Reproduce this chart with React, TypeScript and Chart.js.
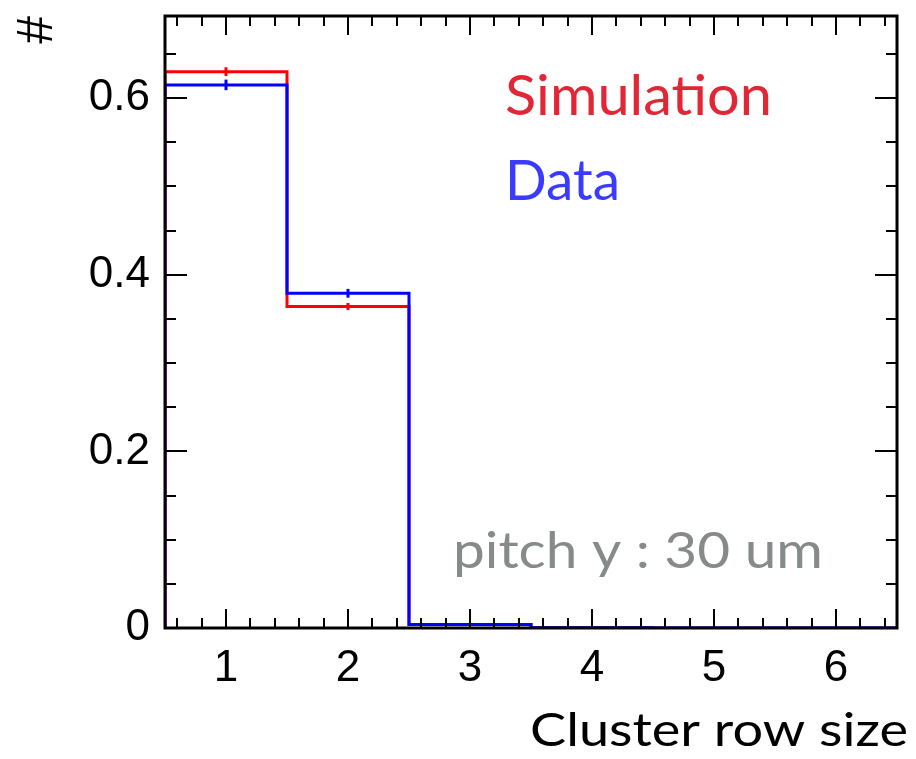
import React, { useEffect, useRef } from "react";
import { Chart, registerables } from "chart.js";

Chart.register(...registerables);

// ---- data ----
const binCenters = [1, 2, 3, 4, 5, 6];
const simValues = [0.63, 0.364, 0.004, 0.0003, 0, 0];
const simErrors = [0.005, 0.004, 0.0006, 0, 0, 0];
const dataValues = [0.615, 0.379, 0.004, 0.0003, 0, 0];
const dataErrors = [0.006, 0.005, 0.0006, 0, 0, 0];
const xTickValues = [1, 2, 3, 4, 5, 6];
const yTickValues = [0, 0.2, 0.4, 0.6];
const xTickLabels = ["1", "2", "3", "4", "5", "6"];
const yTickLabels = ["0", "0.2", "0.4", "0.6"];
const legendLabels = ["Simulation", "Data"];
const xTitle = "Cluster row size";
const yTitle = "#";
const noteText = "pitch y : 30 um";

const X_MIN = 0.5;
const X_MAX = 6.5;
const Y_MIN = 0;
const Y_MAX = 0.693;
const X_MINOR_STEP = 0.2;
const Y_MINOR_STEP = 0.05;

const SIM_COLOR = "#ff0000";
const DATA_COLOR = "#0000ff";

function buildStep(values: number[]) {
  const pts: { x: number; y: number }[] = [{ x: binCenters[0] - 0.5, y: 0 }];
  values.forEach((v, i) => {
    pts.push({ x: binCenters[i] - 0.5, y: v });
    pts.push({ x: binCenters[i] + 0.5, y: v });
  });
  return pts;
}

function fitText(
  ctx: CanvasRenderingContext2D,
  text: string,
  x: number,
  y: number,
  targetWidth: number
) {
  const w = ctx.measureText(text).width;
  const sx = targetWidth / w;
  ctx.save();
  ctx.translate(x, y);
  ctx.scale(sx, 1);
  ctx.textAlign = "left";
  ctx.fillText(text, 0, 0);
  ctx.restore();
}

const rootPlugin = {
  id: "rootStyle",
  afterDatasetsDraw(chart: any) {
    const ctx = chart.ctx as CanvasRenderingContext2D;
    const xs = chart.scales.x;
    const ys = chart.scales.y;
    const { left, right, top, bottom } = chart.chartArea;

    // error bars
    const drawErr = (vals: number[], errs: number[], color: string) => {
      ctx.save();
      ctx.strokeStyle = color;
      ctx.lineWidth = 3;
      vals.forEach((v, i) => {
        if (errs[i] <= 0) return;
        const px = xs.getPixelForValue(binCenters[i]);
        ctx.beginPath();
        ctx.moveTo(px, ys.getPixelForValue(v - errs[i]));
        ctx.lineTo(px, ys.getPixelForValue(v + errs[i]));
        ctx.stroke();
      });
      ctx.restore();
    };
    drawErr(simValues, simErrors, SIM_COLOR);
    drawErr(dataValues, dataErrors, DATA_COLOR);

    ctx.save();
    // ticks
    ctx.strokeStyle = "#000";
    ctx.lineWidth = 2;
    const majX = 19, minX = 10, majY = 22, minY = 11;
    for (let v = X_MIN + 0.1; v < X_MAX; v += X_MINOR_STEP) {
      const isMajor = xTickValues.some((t) => Math.abs(t - v) < 1e-3);
      const len = isMajor ? majX : minX;
      const px = Math.round(xs.getPixelForValue(v));
      ctx.beginPath();
      ctx.moveTo(px, bottom);
      ctx.lineTo(px, bottom - len);
      ctx.moveTo(px, top);
      ctx.lineTo(px, top + len);
      ctx.stroke();
    }
    for (let v = Y_MIN; v < Y_MAX; v += Y_MINOR_STEP) {
      const isMajor = yTickValues.some((t) => Math.abs(t - v) < 1e-4);
      const len = isMajor ? majY : minY;
      const py = Math.round(ys.getPixelForValue(v));
      ctx.beginPath();
      ctx.moveTo(left, py);
      ctx.lineTo(left + len, py);
      ctx.moveTo(right, py);
      ctx.lineTo(right - len, py);
      ctx.stroke();
    }
    // frame
    ctx.lineWidth = 3;
    ctx.strokeRect(left, top, right - left, bottom - top);

    // texts
    ctx.textBaseline = "alphabetic";
    ctx.font = "57px Lato";
    ctx.fillStyle = "#e32636";
    fitText(ctx, legendLabels[0], 505, 115, 267);
    ctx.fillStyle = "#3b3bff";
    fitText(ctx, legendLabels[1], 505, 200, 115);

    ctx.font = "51px Lato";
    ctx.fillStyle = "#878a8a";
    fitText(ctx, noteText, 453, 568, 370);

    ctx.font = "46px Lato";
    ctx.fillStyle = "#000";
    fitText(ctx, xTitle, 530, 746, 378);

    ctx.save();
    ctx.translate(52, 16);
    ctx.rotate(-Math.PI / 2);
    ctx.textAlign = "right";
    ctx.font = "50px 'Liberation Sans'";
    ctx.fillText(yTitle, 0, 0);
    ctx.restore();

    ctx.restore();
  },
};

export default function App() {
  const ref = useRef<HTMLCanvasElement>(null);
  useEffect(() => {
    document.body.style.margin = "0";
    const chart = new Chart(ref.current!, {
      type: "line",
      data: {
        datasets: [
          {
            label: legendLabels[1],
            data: buildStep(dataValues),
            borderColor: DATA_COLOR,
            borderWidth: 3,
            pointRadius: 0,
            tension: 0,
            fill: false,
          },
          {
            label: legendLabels[0],
            data: buildStep(simValues),
            borderColor: SIM_COLOR,
            borderWidth: 3,
            pointRadius: 0,
            tension: 0,
            fill: false,
          },
        ],
      },
      options: {
        animation: false,
        responsive: false,
        devicePixelRatio: 1,
        layout: { padding: { top: 16, right: 19, left: 0, bottom: 0 } },
        plugins: { legend: { display: false }, tooltip: { enabled: false } },
        scales: {
          x: {
            type: "linear",
            min: X_MIN,
            max: X_MAX,
            grid: { display: false, drawTicks: false },
            border: { display: false },
            afterBuildTicks: (s: any) => {
              s.ticks = xTickValues.map((v) => ({ value: v }));
            },
            afterFit: (s: any) => {
              s.height = 131;
              s.paddingLeft = 0;
              s.paddingRight = 0;
              s.paddingTop = 0;
              s.paddingBottom = 0;
            },
            ticks: {
              autoSkip: false,
              maxRotation: 0,
              padding: 14,
              color: "#000",
              font: { family: "'Liberation Sans'", size: 44 },
              callback: (v: any) => xTickLabels[xTickValues.indexOf(Number(v))] ?? "",
            },
          },
          y: {
            type: "linear",
            min: Y_MIN,
            max: Y_MAX,
            grid: { display: false, drawTicks: false },
            border: { display: false },
            afterBuildTicks: (s: any) => {
              s.ticks = yTickValues.map((v) => ({ value: v }));
            },
            afterFit: (s: any) => {
              s.width = 165;
              s.paddingLeft = 0;
              s.paddingRight = 0;
              s.paddingTop = 0;
              s.paddingBottom = 0;
            },
            ticks: {
              autoSkip: false,
              padding: 15,
              color: "#000",
              font: { family: "'Liberation Sans'", size: 44 },
              callback: (v: any) => {
                const i = yTickValues.findIndex((t) => Math.abs(t - Number(v)) < 1e-6);
                return i >= 0 ? yTickLabels[i] : "";
              },
            },
          },
        },
      },
      plugins: [rootPlugin],
    });
    return () => chart.destroy();
  }, []);
  return (
    <div style={{ position: "absolute", left: 0, top: 0, width: 916, height: 759, background: "#fff" }}>
      <canvas ref={ref} width={916} height={759} style={{ width: 916, height: 759, display: "block" }} />
    </div>
  );
}
